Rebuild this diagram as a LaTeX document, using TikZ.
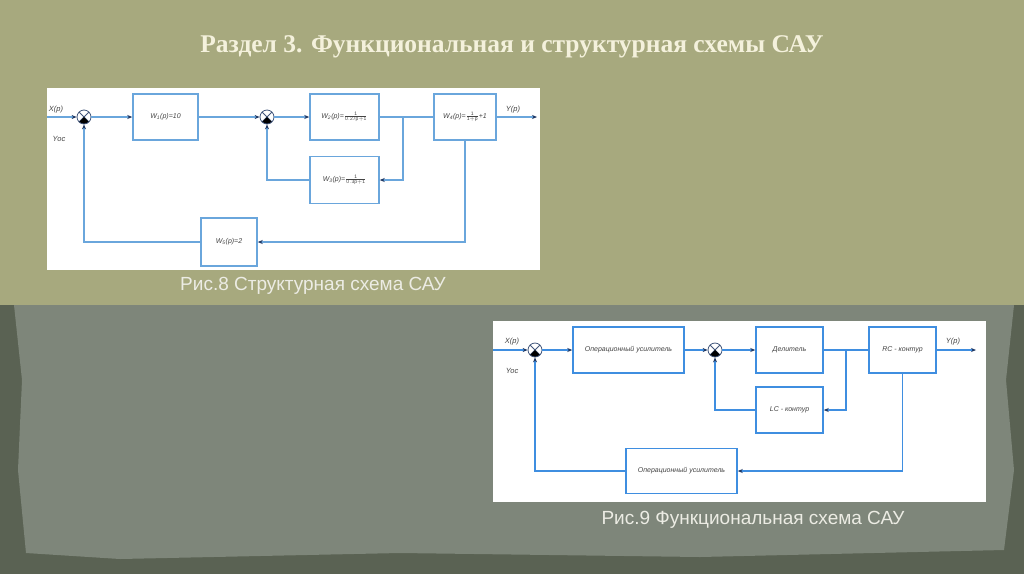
\documentclass[tikz,border=0pt]{standalone}
\usepackage{fontspec}
\setmainfont{Liberation Serif}
\setsansfont{Liberation Sans}
\usetikzlibrary{arrows.meta}
\definecolor{olivebg}{HTML}{A7A97E}
\definecolor{darkbg}{HTML}{5A6253}
\definecolor{paperbg}{HTML}{7E867A}
\definecolor{titlecol}{HTML}{F4F1DC}
\definecolor{capcol}{HTML}{ECECE4}
\definecolor{lineA}{HTML}{6AA6DC}
\definecolor{lineB}{HTML}{3F8EE0}
\definecolor{tipcol}{HTML}{1F3864}
\definecolor{txtcol}{HTML}{444444}
\newcommand{\fr}[2]{$\frac{\mathsf{#1}}{\mathsf{#2}}$}

\begin{document}
\begin{tikzpicture}[x=1pt, y=-1pt,
    >={Stealth[length=5pt, width=4pt, color=tipcol]},
    blk/.style={draw, fill=white, inner sep=1pt, font=\sffamily\itshape\fontsize{7}{8}\selectfont, text=txtcol},
    sumnode/.style={circle, draw=tipcol!85, fill=white, minimum size=14pt, inner sep=0pt, line width=0.8pt,
        path picture={
            \draw[tipcol!85] (path picture bounding box.center) ++(45:7pt) -- ++(225:14pt);
            \draw[tipcol!85] (path picture bounding box.center) ++(135:7pt) -- ++(-45:14pt);
            \fill[black] (path picture bounding box.center) -- ++(-45:7pt)
                arc[start angle=-45, end angle=-135, radius=7pt] -- cycle;}},
    lbl/.style={font=\sffamily\itshape\fontsize{7.5}{8}\selectfont, text=txtcol}]
    % background
    \fill[darkbg] (0,0) rectangle (1024,574);
    \fill[paperbg] (14,305) -- (1014,305) -- (1006,380) -- (1014,470) -- (1004,550)
        -- (700,557) -- (400,553) -- (120,559) -- (26,553) -- (18,470) -- (22,380) -- cycle;
    \fill[olivebg] (0,0) rectangle (1024,305);
    \node[titlecol, font=\bfseries\fontsize{25.5}{28}\selectfont] (title) at (512,47)
        {Раздел 3. Функциональная и структурная схемы САУ};

    % Рис.8
    \fill[white] (47,88) rectangle (540,270);
    \begin{scope}[draw=lineA, every node/.append style={draw=lineA}, line width=1.5pt]
        \coordinate (inA) at (47,117);
        \node[sumnode] (sA1) at (84,117) {};
        \node[blk, minimum width=65pt, minimum height=46pt] (w1) at (165.5,117) {W\textsubscript{1}(p)=10};
        \node[sumnode] (sA2) at (267,117) {};
        \node[blk, minimum width=69pt, minimum height=46pt] (w2) at (344.5,117) {W\textsubscript{2}(p)=\fr{1}{0.27p+1}};
        \node[blk, minimum width=62pt, minimum height=46pt] (w4) at (465,117) {W\textsubscript{4}(p)=\fr{1}{1+p}+1};
        \node[blk, minimum width=69pt, minimum height=47pt] (w3) at (344.5,180) {W\textsubscript{3}(p)=\fr{1}{0.3p+1}};
        \node[blk, minimum width=56pt, minimum height=48pt] (w5) at (229,242) {W\textsubscript{5}(p)=2};
        \coordinate (brA) at (403,117);
        \coordinate (outA) at (537,117);
        \draw[->] (inA) -- (sA1);
        \draw[->] (sA1) -- (w1);
        \draw[->] (w1) -- (sA2);
        \draw[->] (sA2) -- (w2);
        \draw (w2) -- (w4);
        \draw[->] (brA) |- (w3.east);
        \draw[->] (w3.west) -| (sA2.south);
        \draw[->] (w4) -- (outA);
        \draw[->] (w4.south) |- (w5.east);
        \draw[->] (w5.west) -| (sA1.south);
    \end{scope}
    \node[lbl] (xA) at (56,110) {X(p)};
    \node[lbl] (yocA) at (59,139) {Yoc};
    \node[lbl] (yA) at (513,110) {Y(p)};
    \node[capcol, font=\sffamily\fontsize{19}{22}\selectfont] (capA) at (313,286) {Рис.8 Структурная схема САУ};

    % Рис.9
    \fill[white] (493,321) rectangle (986,502);
    \begin{scope}[draw=lineB, every node/.append style={draw=lineB}, line width=1.5pt]
        \coordinate (inB) at (493,350);
        \node[sumnode] (sB1) at (535,350) {};
        \node[blk, minimum width=111pt, minimum height=46pt] (oa1) at (628.5,350) {Операционный усилитель};
        \node[sumnode] (sB2) at (715,350) {};
        \node[blk, minimum width=67pt, minimum height=46pt] (dv) at (789.5,350) {Делитель};
        \node[blk, minimum width=67pt, minimum height=46pt] (rc) at (902.5,350) {RC - контур};
        \node[blk, minimum width=67pt, minimum height=46pt] (lc) at (789.5,410) {LC - контур};
        \node[blk, minimum width=111pt, minimum height=45pt] (oa2) at (681.5,471) {Операционный усилитель};
        \coordinate (brB) at (846,350);
        \coordinate (outB) at (976,350);
        \draw[->] (inB) -- (sB1);
        \draw[->] (sB1) -- (oa1);
        \draw[->] (oa1) -- (sB2);
        \draw[->] (sB2) -- (dv);
        \draw (dv) -- (rc);
        \draw[->] (brB) |- (lc.east);
        \draw[->] (lc.west) -| (sB2.south);
        \draw[->] (rc) -- (outB);
        \draw[->] (rc.south) |- (oa2.east);
        \draw[->] (oa2.west) -| (sB1.south);
    \end{scope}
    \node[lbl] (xB) at (512,342) {X(p)};
    \node[lbl] (yocB) at (512,371) {Yoc};
    \node[lbl] (yB) at (953,342) {Y(p)};
    \node[capcol, font=\sffamily\fontsize{19}{22}\selectfont] (capB) at (753,520) {Рис.9 Функциональная схема САУ};
\end{tikzpicture}
\end{document}
